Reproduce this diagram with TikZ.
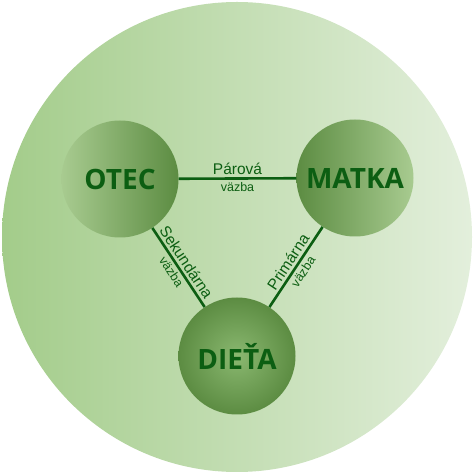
\documentclass[tikz,border=0pt]{standalone}
\usepackage{fontspec}
\setmainfont{Liberation Sans}
\newfontfamily\headfont{Open Sans}
\definecolor{leafdark}{RGB}{12, 94, 18}
\definecolor{outerleft}{RGB}{163, 204, 138}
\definecolor{outerright}{RGB}{227, 239, 220}
\definecolor{balllight}{RGB}{168, 203, 144}
\definecolor{ballmid}{RGB}{138, 184, 112}
\definecolor{balldark}{RGB}{92, 140, 66}
\usetikzlibrary{positioning}

\begin{document}
\begin{tikzpicture}[x=1pt, y=1pt,
  member/.style={circle, minimum size=117pt, inner sep=0pt, text=leafdark, font=\headfont\bfseries\fontsize{28}{30}\selectfont},
  tie/.style={draw=leafdark, line width=2.6pt},
  kind/.style={font=\fontsize{15.5}{17}\selectfont, text=leafdark, inner sep=2.5pt},
  word/.style={font=\fontsize{12.5}{14}\selectfont, text=leafdark, inner sep=2.5pt}
]
  \useasboundingbox (0,0) rectangle (474,474);
  \shade[left color=outerleft, right color=outerright] (237,237) circle (235);
  \node[member, left color=balllight, right color=balldark] (otec) at (120,295) {OTEC};
  \node[member, left color=balldark, right color=balllight] (matka) at (355,296) {MATKA};
  \node[member, inner color=ballmid, outer color=balldark] (dieta) at (237,118) {DIEŤA};
  \draw[tie] (otec) -- (matka)
    node[kind, midway, above] {Párová}
    node[word, midway, below] {väzba};
  \draw[tie] (otec) -- (dieta)
    node[kind, midway, sloped, above] {Sekundárna}
    node[word, midway, sloped, below] {väzba};
  \draw[tie] (dieta) -- (matka)
    node[kind, midway, sloped, above] {Primárna}
    node[word, midway, sloped, below] {väzba};
\end{tikzpicture}
\end{document}
